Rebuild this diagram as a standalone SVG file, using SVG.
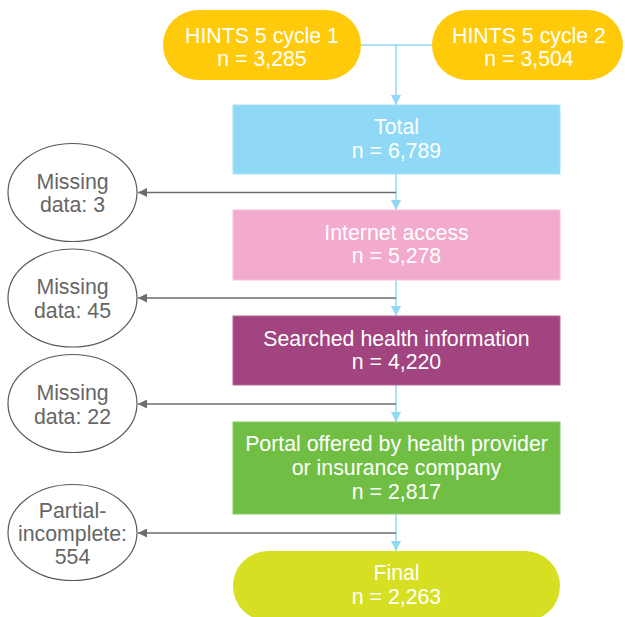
<svg xmlns="http://www.w3.org/2000/svg" width="625" height="617" viewBox="0 0 625 617">
  <defs>
    <style>
      text { font-family: "Liberation Sans", Arial, sans-serif; font-size: 21.3px; text-anchor: middle; }
      .wt { fill: #ffffff; }
      .gt { fill: #666666; }
      .blue { stroke: #8fd8f6; stroke-width: 1.5; fill: none; }
      .gray { stroke: #6d6d6d; stroke-width: 1.5; fill: none; }
      .ell { fill: #ffffff; stroke: #595959; stroke-width: 1.2; }
    </style>
    <marker id="ab" markerUnits="userSpaceOnUse" markerWidth="10" markerHeight="10" refX="10" refY="5" orient="auto" viewBox="0 0 10 10">
      <path d="M0,0 L10,5 L0,10 Z" fill="#8fd8f6"/>
    </marker>
    <marker id="ag" markerUnits="userSpaceOnUse" markerWidth="9" markerHeight="9" refX="9" refY="4.5" orient="auto" viewBox="0 0 9 9">
      <path d="M0,0 L9,4.5 L0,9 Z" fill="#6d6d6d"/>
    </marker>
  </defs>

  <g id="connectors">
    <path class="blue" d="M361,45 H432"/>
    <path class="blue" d="M396,45 V105" marker-end="url(#ab)"/>
    <path class="blue" d="M396,174 V210" marker-end="url(#ab)"/>
    <path class="blue" d="M396,280 V316" marker-end="url(#ab)"/>
    <path class="blue" d="M396,385 V422" marker-end="url(#ab)"/>
    <path class="blue" d="M396,514 V551" marker-end="url(#ab)"/>
    <path class="gray" d="M396,192.5 H138" marker-end="url(#ag)"/>
    <path class="gray" d="M396,298 H138" marker-end="url(#ag)"/>
    <path class="gray" d="M396,404 H138" marker-end="url(#ag)"/>
    <path class="gray" d="M396,533 H138" marker-end="url(#ag)"/>
  </g>

  <g id="cycle1">
    <rect x="163" y="10" width="198" height="70" rx="35" fill="#ffca0a"/>
    <text class="wt" x="262" y="42.5">HINTS 5 cycle 1</text>
    <text class="wt" x="262" y="66">n = 3,285</text>
  </g>
  <g id="cycle2">
    <rect x="432" y="10" width="191" height="70" rx="35" fill="#ffca0a"/>
    <text class="wt" x="529" y="42.5">HINTS 5 cycle 2</text>
    <text class="wt" x="529" y="66">n = 3,504</text>
  </g>
  <g id="total">
    <rect x="233" y="105" width="327" height="69" fill="#8fd8f6" stroke="#a8e1f8" stroke-width="1"/>
    <text class="wt" x="396.5" y="134">Total</text>
    <text class="wt" x="396.5" y="157.5">n = 6,789</text>
  </g>
  <g id="internet">
    <rect x="233" y="210" width="327" height="70" fill="#f2abcd" stroke="#f6c1da" stroke-width="1"/>
    <text class="wt" x="396.5" y="240">Internet access</text>
    <text class="wt" x="396.5" y="262.7">n = 5,278</text>
  </g>
  <g id="searched">
    <rect x="233" y="316" width="327" height="69" fill="#a24480" stroke="#b5679a" stroke-width="1"/>
    <text class="wt" x="396.5" y="345.5">Searched health information</text>
    <text class="wt" x="396.5" y="368.5">n = 4,220</text>
  </g>
  <g id="portal">
    <rect x="233" y="422" width="327" height="92" fill="#70bf44" stroke="#8ccd69" stroke-width="1"/>
    <text class="wt" x="396.5" y="451">Portal offered by health provider</text>
    <text class="wt" x="396.5" y="475">or insurance company</text>
    <text class="wt" x="396.5" y="499">n = 2,817</text>
  </g>
  <g id="final">
    <rect x="233" y="551" width="327" height="70" rx="35" fill="#d7df23"/>
    <text class="wt" x="396.5" y="580">Final</text>
    <text class="wt" x="396.5" y="603.5">n = 2,263</text>
  </g>

  <g id="missing3">
    <ellipse class="ell" cx="72.5" cy="192.5" rx="64.5" ry="49"/>
    <text class="gt" x="72.5" y="188.5">Missing</text>
    <text class="gt" x="72.5" y="212">data: 3</text>
  </g>
  <g id="missing45">
    <ellipse class="ell" cx="72.5" cy="298" rx="64.5" ry="49"/>
    <text class="gt" x="72.5" y="294">Missing</text>
    <text class="gt" x="72.5" y="317.5">data: 45</text>
  </g>
  <g id="missing22">
    <ellipse class="ell" cx="72.5" cy="403.5" rx="64.5" ry="49"/>
    <text class="gt" x="72.5" y="400">Missing</text>
    <text class="gt" x="72.5" y="423.5">data: 22</text>
  </g>
  <g id="partial">
    <ellipse class="ell" cx="72.5" cy="532.5" rx="64.5" ry="48"/>
    <text class="gt" x="72.5" y="518">Partial-</text>
    <text class="gt" x="72.5" y="541">incomplete:</text>
    <text class="gt" x="72.5" y="564">554</text>
  </g>
</svg>
